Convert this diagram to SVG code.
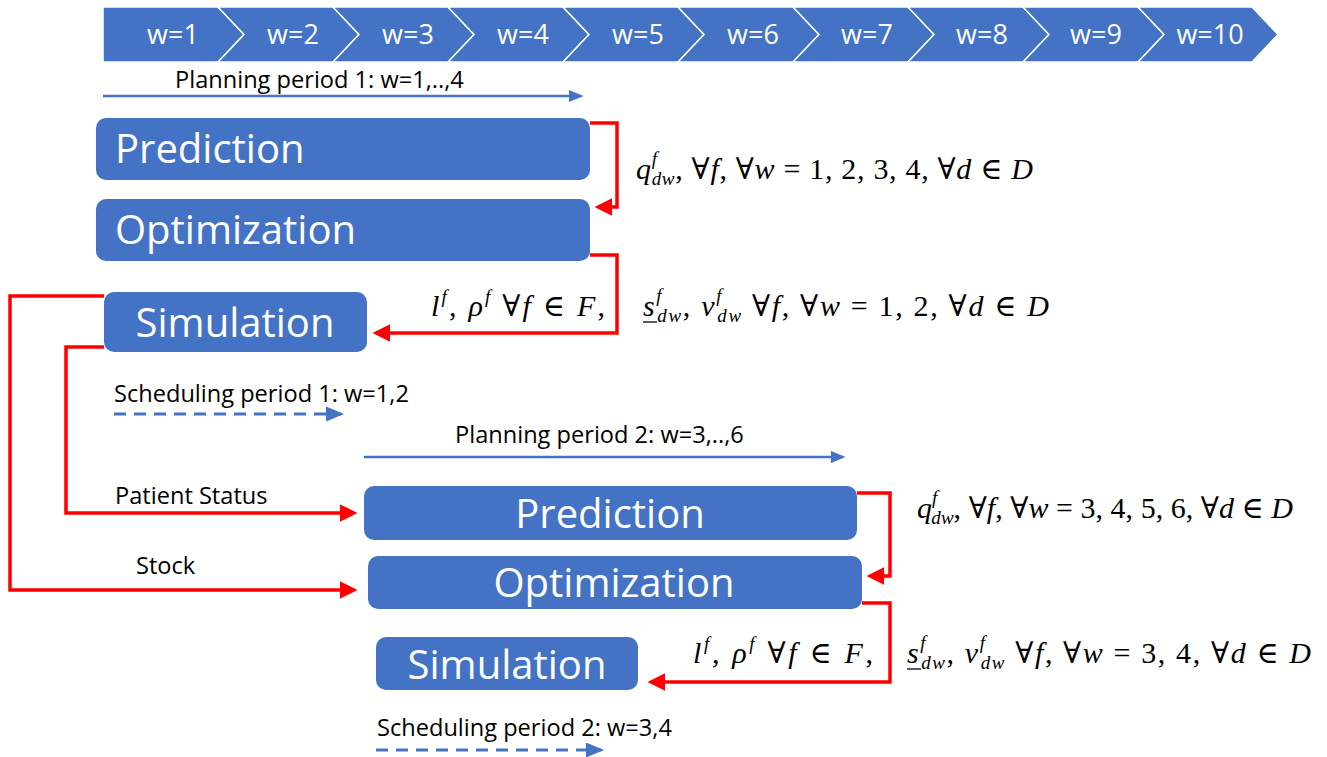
<svg xmlns="http://www.w3.org/2000/svg" width="1327" height="757" viewBox="0 0 1327 757">
<style>
.chev{fill:#4472C4;stroke:#fff;stroke-width:1.5}
.wl{font-family:"Open Sans",sans-serif;font-size:27px;fill:#fff;text-anchor:middle}
.box{fill:#4472C4}
.bt{font-family:"Open Sans",sans-serif;font-size:40px;fill:#fff}
.lbl{font-family:"Open Sans",sans-serif;font-size:23.6px;fill:#000}
.math{font-family:"Liberation Serif","DejaVu Serif",serif;font-size:30px;fill:#000}
.i{font-style:italic}
.s{font-size:19px;font-style:italic}
.red{fill:none;stroke:#FF0000;stroke-width:3.5}
.blue{fill:none;stroke:#4472C4;stroke-width:2.5}
.dash{fill:none;stroke:#4472C4;stroke-width:3;stroke-dasharray:12 8}
</style>
<defs>
<marker id="ra" markerWidth="5" markerHeight="5" refX="4" refY="2.5" orient="auto" markerUnits="strokeWidth"><path d="M0,0 L5,2.5 L0,5 Z" fill="#FF0000"/></marker>
<marker id="ba" markerWidth="6" markerHeight="5" refX="5" refY="2.5" orient="auto" markerUnits="strokeWidth"><path d="M0,0 L6,2.5 L0,5 Z" fill="#4472C4"/></marker>
</defs>

<g id="timeline">
<path class="chev" d="M103,7 L218,7 L244,34.5 L218,62 L103,62 Z"/>
<path class="chev" d="M218,7 L333,7 L359,34.5 L333,62 L218,62 L244,34.5 Z"/>
<path class="chev" d="M333,7 L448,7 L474,34.5 L448,62 L333,62 L359,34.5 Z"/>
<path class="chev" d="M448,7 L563,7 L589,34.5 L563,62 L448,62 L474,34.5 Z"/>
<path class="chev" d="M563,7 L678,7 L704,34.5 L678,62 L563,62 L589,34.5 Z"/>
<path class="chev" d="M678,7 L793,7 L819,34.5 L793,62 L678,62 L704,34.5 Z"/>
<path class="chev" d="M793,7 L908,7 L934,34.5 L908,62 L793,62 L819,34.5 Z"/>
<path class="chev" d="M908,7 L1023,7 L1049,34.5 L1023,62 L908,62 L934,34.5 Z"/>
<path class="chev" d="M1023,7 L1138,7 L1164,34.5 L1138,62 L1023,62 L1049,34.5 Z"/>
<path class="chev" d="M1138,7 L1252,7 L1278,34.5 L1252,62 L1138,62 L1164,34.5 Z"/>
<text class="wl" x="173" y="44">w=1</text>
<text class="wl" x="293" y="44">w=2</text>
<text class="wl" x="408" y="44">w=3</text>
<text class="wl" x="523" y="44">w=4</text>
<text class="wl" x="638" y="44">w=5</text>
<text class="wl" x="753" y="44">w=6</text>
<text class="wl" x="867" y="44">w=7</text>
<text class="wl" x="982" y="44">w=8</text>
<text class="wl" x="1096" y="44">w=9</text>
<text class="wl" x="1210" y="44">w=10</text>
</g>

<g id="period-labels">
<text class="lbl" x="175" y="88">Planning period 1: w=1,..,4</text>
<text class="lbl" x="114" y="402">Scheduling period 1: w=1,2</text>
<text class="lbl" x="455" y="443">Planning period 2: w=3,..,6</text>
<text class="lbl" x="115" y="504">Patient Status</text>
<text class="lbl" x="136" y="574">Stock</text>
<text class="lbl" x="377" y="736">Scheduling period 2: w=3,4</text>
</g>

<g id="prediction1"><rect class="box" x="96" y="118" width="494" height="62" rx="10"/><text class="bt" x="115" y="163">Prediction</text></g>
<g id="optimization1"><rect class="box" x="96" y="199" width="494" height="62" rx="10"/><text class="bt" x="115" y="244">Optimization</text></g>
<g id="simulation1"><rect class="box" x="104" y="292" width="263" height="60" rx="10"/><text class="bt" x="235" y="337" text-anchor="middle">Simulation</text></g>
<g id="prediction2"><rect class="box" x="364" y="486" width="493" height="54" rx="10"/><text class="bt" x="610" y="528" text-anchor="middle">Prediction</text></g>
<g id="optimization2"><rect class="box" x="368" y="556" width="494" height="53" rx="10"/><text class="bt" x="614" y="597" text-anchor="middle">Optimization</text></g>
<g id="simulation2"><rect class="box" x="376" y="637" width="262" height="53" rx="10"/><text class="bt" x="507" y="679" text-anchor="middle">Simulation</text></g>

<g id="connectors">
<path class="blue" d="M103,96 L581,96" marker-end="url(#ba)"/>
<path class="dash" d="M114,414 L341,414" marker-end="url(#ba)"/>
<path class="blue" d="M364,457 L843,457" marker-end="url(#ba)"/>
<path class="dash" d="M376,750 L601,750" marker-end="url(#ba)"/>
<path class="red" d="M590,123 L617,123 L617,207 L598,207" marker-end="url(#ra)"/>
<path class="red" d="M590,255 L617,255 L617,333 L376,333" marker-end="url(#ra)"/>
<path class="red" d="M104,296 L10,296 L10,590 L354,590" marker-end="url(#ra)"/>
<path class="red" d="M104,347 L66,347 L66,513 L354,513" marker-end="url(#ra)"/>
<path class="red" d="M857,493 L890,493 L890,576 L870,576" marker-end="url(#ra)"/>
<path class="red" d="M862,603 L890,603 L890,682 L651,682" marker-end="url(#ra)"/>
</g>

<g id="math-labels">
<text class="math" x="636" y="179" textLength="397" lengthAdjust="spacing"><tspan class="i">q</tspan><tspan class="s" dy="-14">f</tspan><tspan class="s" dx="-6" dy="20">dw</tspan><tspan dy="-6">, ∀</tspan><tspan class="i">f</tspan>, ∀<tspan class="i">w</tspan> = 1, 2, 3, 4, ∀<tspan class="i">d</tspan> ∈ <tspan class="i">D</tspan></text>
<text class="math" x="431" y="316" textLength="174" lengthAdjust="spacing"><tspan class="i">l</tspan><tspan class="s" dy="-13">f</tspan><tspan dy="13">, </tspan><tspan class="i">ρ</tspan><tspan class="s" dy="-13">f</tspan><tspan dy="13"> ∀</tspan><tspan class="i">f</tspan> ∈ <tspan class="i">F</tspan>,</text>
<text class="math" x="643" y="316" textLength="406" lengthAdjust="spacing"><tspan class="i">s</tspan><tspan class="s" dy="-14">f</tspan><tspan class="s" dx="-6" dy="20">dw</tspan><tspan dy="-6">, </tspan><tspan class="i">ν</tspan><tspan class="s" dy="-14">f</tspan><tspan class="s" dx="-6" dy="20">dw</tspan><tspan dy="-6"> ∀</tspan><tspan class="i">f</tspan>, ∀<tspan class="i">w</tspan> = 1, 2, ∀<tspan class="i">d</tspan> ∈ <tspan class="i">D</tspan></text>
<line x1="643" y1="322" x2="657" y2="322" stroke="#000" stroke-width="1.3"/>
<text class="math" x="917" y="518" textLength="376" lengthAdjust="spacing"><tspan class="i">q</tspan><tspan class="s" dy="-14">f</tspan><tspan class="s" dx="-6" dy="20">dw</tspan><tspan dy="-6">, ∀</tspan><tspan class="i">f</tspan>, ∀<tspan class="i">w</tspan> = 3, 4, 5, 6, ∀<tspan class="i">d</tspan> ∈ <tspan class="i">D</tspan></text>
<text class="math" x="693" y="663" textLength="180" lengthAdjust="spacing"><tspan class="i">l</tspan><tspan class="s" dy="-13">f</tspan><tspan dy="13">, </tspan><tspan class="i">ρ</tspan><tspan class="s" dy="-13">f</tspan><tspan dy="13"> ∀</tspan><tspan class="i">f</tspan> ∈ <tspan class="i">F</tspan>,</text>
<text class="math" x="907" y="663" textLength="404" lengthAdjust="spacing"><tspan class="i">s</tspan><tspan class="s" dy="-14">f</tspan><tspan class="s" dx="-6" dy="20">dw</tspan><tspan dy="-6">, </tspan><tspan class="i">ν</tspan><tspan class="s" dy="-14">f</tspan><tspan class="s" dx="-6" dy="20">dw</tspan><tspan dy="-6"> ∀</tspan><tspan class="i">f</tspan>, ∀<tspan class="i">w</tspan> = 3, 4, ∀<tspan class="i">d</tspan> ∈ <tspan class="i">D</tspan></text>
<line x1="907" y1="669" x2="921" y2="669" stroke="#000" stroke-width="1.3"/>
</g>
</svg>
